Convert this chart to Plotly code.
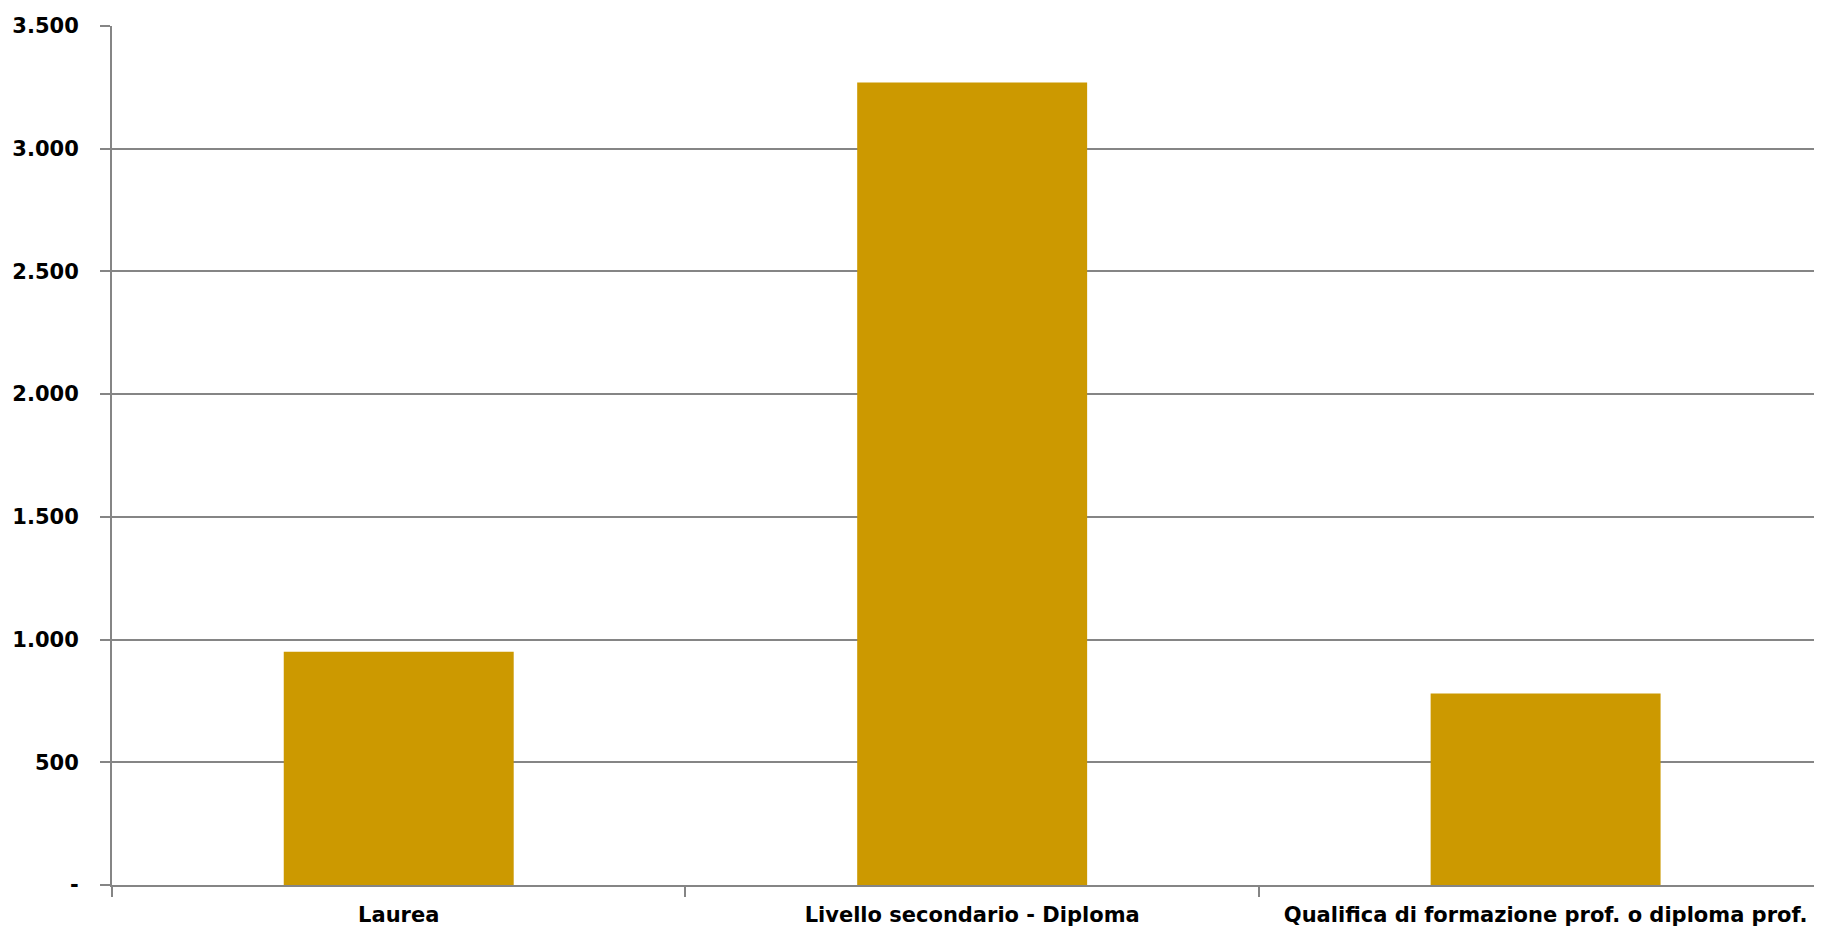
import plotly.graph_objects as go

categories = ["Laurea", "Livello secondario - Diploma", "Qualifica di formazione prof. o diploma prof."]
values = [950, 3270, 780]
y_tick_values = [0, 500, 1000, 1500, 2000, 2500, 3000, 3500]
y_tick_labels = ["-", "500", "1.000", "1.500", "2.000", "2.500", "3.000", "3.500"]

GRID = "#858585"
FONT = dict(family="DejaVu Sans, Arial, sans-serif", size=21, color="#000000", weight="bold")

fig = go.Figure(go.Bar(x=categories, y=values, marker=dict(color="#CC9900", line=dict(width=0)),
                       width=0.401))

# the page body has an 8px margin; compensate so the plot lands where the reference has it
fig.update_layout(
    width=1814, height=923,
    margin=dict(l=104, r=0, t=18, b=46),
    paper_bgcolor="white", plot_bgcolor="white",
    showlegend=False,
    font=FONT,
)
fig.update_xaxes(type="category", range=[-0.5, 2.482], tickson="boundaries",
                 ticks="outside", ticklen=10, tickwidth=2, tickcolor=GRID,
                 showline=True, linecolor=GRID, linewidth=2,
                 showticklabels=True, showgrid=False, tickfont=FONT,
                 ticklabelstandoff=10)
fig.update_yaxes(range=[0, 3500], tickvals=y_tick_values, ticktext=y_tick_labels,
                 ticks="outside", ticklen=10, tickwidth=2, tickcolor=GRID,
                 showline=True, linecolor=GRID, linewidth=2,
                 showgrid=True, gridcolor=GRID, gridwidth=1.6, zeroline=False,
                 ticklabelstandoff=17, tickfont=FONT)

fig.write_html("out.html")
